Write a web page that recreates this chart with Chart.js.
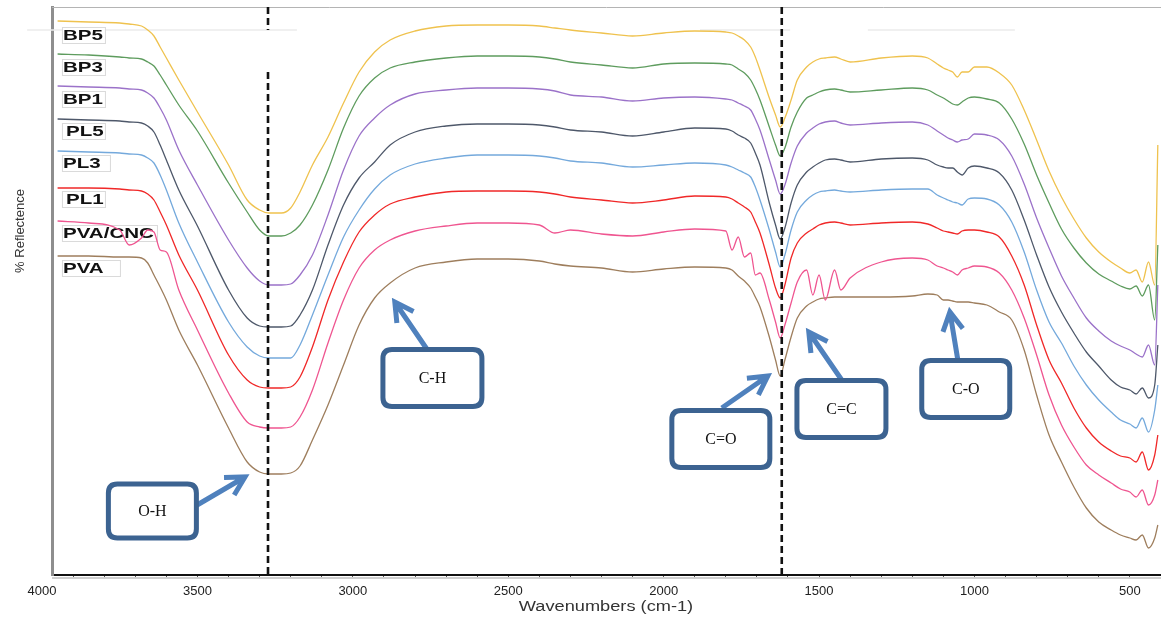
<!DOCTYPE html>
<html>
<head>
<meta charset="utf-8">
<title>FTIR spectra</title>
<script src="https://cdn.jsdelivr.net/npm/chart.js@4.4.1/dist/chart.umd.min.js"></script>
<style>
  html, body { margin: 0; padding: 0; background: #fff; }
  canvas { display: block; }
</style>
</head>
<body>
<canvas id="ftirChart" width="1161" height="617"></canvas>
<script>
// wavenumbers (cm-1)
const wavenumbers = [3950, 3850, 3750, 3720, 3680, 3660, 3640, 3620, 3600, 3560, 3500, 3400, 3340, 3300,
    3270, 3230, 3200, 3170, 3130, 3080, 3030, 2980, 2930, 2880,
    2800, 2700, 2600, 2500, 2400, 2350, 2300, 2200, 2100, 2000,
    1900, 1800, 1780, 1760, 1740, 1720, 1705, 1690, 1660, 1640, 1625, 1610, 1590,
    1570, 1540, 1520, 1500, 1480, 1450, 1430, 1400, 1300, 1200, 1150, 1120, 1100,
    1085, 1070, 1055, 1040, 1020, 1000, 960, 920, 880, 840,
    800, 760, 720, 680, 640, 600, 560, 530, 500, 480,
    460, 440, 420, 410];

// stacked reflectance traces (arbitrary offset units)
const bp5 = [554, 553, 552, 551, 549, 545, 539, 528, 517, 495, 463, 410, 375, 365,
    362, 362, 367, 383, 410, 438, 472, 503, 523, 535,
    544, 549, 550, 550, 549, 547, 545, 542, 539, 542,
    544, 543, 542, 539, 535, 528, 518, 505, 477, 460, 448, 457, 475,
    495, 508, 513, 516, 517, 518, 516, 513, 517, 519, 517, 511, 507,
    505, 503, 498, 503, 503, 508, 508, 502, 490, 465,
    435, 404, 378, 356, 337, 323, 313, 307, 302, 305,
    293, 313, 290, 430];
const bp3 = [521, 520, 518, 517, 516, 513, 509, 500, 490, 470, 444, 392, 363, 345,
    339, 339, 342, 350, 370, 405, 447, 479, 497, 507,
    513, 517, 519, 519, 518, 516, 513, 510, 507, 511,
    512, 511, 510, 506, 502, 495, 486, 475, 448, 430, 419, 427, 448,
    463, 477, 480, 483, 485, 486, 485, 483, 485, 487, 485, 480, 477,
    474, 471, 470, 473, 477, 478, 476, 472, 456, 431,
    400, 372, 346, 327, 312, 301, 294, 289, 286, 289,
    279, 290, 255, 330];
const bp1 = [489, 488, 487, 486, 485, 482, 477, 467, 455, 425, 390, 335, 307, 294,
    290, 290, 291, 300, 320, 360, 405, 439, 457, 470,
    481, 485, 487, 487, 486, 484, 480, 478, 474, 477,
    478, 476, 475, 472, 469, 465, 456, 445, 415, 395, 381, 390, 412,
    429, 442, 447, 451, 453, 454, 452, 450, 452, 453, 450, 444, 440,
    437, 435, 433, 435, 436, 441, 440, 435, 419, 391,
    357, 327, 299, 277, 257, 244, 234, 229, 225, 221,
    218, 230, 210, 290];
const pl5 = [456, 455, 454, 453, 452, 449, 443, 430, 415, 385, 349, 285, 257, 249,
    248, 248, 249, 260, 285, 330, 370, 397, 413, 430,
    443, 449, 451, 451, 450, 448, 445, 443, 439, 443,
    447, 446, 444, 440, 437, 432, 422, 410, 372, 350, 336, 347, 372,
    390, 403, 408, 412, 415, 416, 415, 413, 416, 417, 415, 410, 408,
    407, 407, 403, 400, 407, 409, 407, 402, 385, 355,
    320, 288, 263, 242, 223, 209, 195, 188, 185, 181,
    187, 177, 190, 230];
const pl3 = [424, 423, 422, 421, 420, 417, 412, 400, 385, 352, 313, 253, 228, 219,
    217, 217, 217, 230, 260, 300, 338, 365, 386, 400,
    411, 417, 420, 420, 419, 417, 414, 412, 408, 410,
    412, 410, 408, 405, 402, 398, 388, 375, 345, 323, 308, 320, 345,
    363, 375, 380, 383, 384, 385, 384, 383, 385, 386, 386, 380, 377,
    375, 373, 372, 370, 376, 377, 376, 370, 353, 323,
    285, 253, 232, 209, 190, 175, 163, 155, 151, 147,
    157, 143, 165, 190];
const pl1 = [387, 387, 386, 385, 384, 381, 375, 363, 350, 320, 285, 220, 195, 188,
    187, 187, 188, 198, 228, 275, 313, 343, 360, 371,
    378, 383, 384, 384, 383, 381, 378, 375, 372, 375,
    379, 378, 376, 372, 368, 363, 353, 342, 310, 287, 277, 290, 317,
    332, 342, 346, 350, 352, 353, 352, 350, 352, 353, 351, 347, 344,
    343, 342, 341, 344, 345, 345, 343, 338, 319, 290,
    250, 215, 192, 167, 147, 133, 124, 119, 117, 113,
    123, 105, 120, 140];
const pvaCnc = [354, 352, 345, 330, 337, 345, 343, 325, 323, 285, 245, 182, 153, 148,
    147, 147, 148, 158, 185, 232, 275, 307, 325, 335,
    344, 349, 352, 352, 350, 342, 345, 341, 339, 343,
    346, 344, 325, 338, 318, 322, 300, 302, 275, 253, 237, 250, 272,
    293, 305, 280, 300, 275, 305, 285, 297, 313, 317, 315, 309, 307,
    305, 303, 300, 305, 307, 309, 308, 302, 285, 257,
    220, 180, 150, 128, 110, 100, 92, 86, 83, 78,
    85, 70, 80, 95];
const pva = [319, 319, 318, 318, 317, 312, 300, 288, 275, 245, 210, 147, 113, 103,
    101, 101, 102, 109, 135, 170, 210, 250, 277, 292,
    307, 313, 316, 316, 314, 311, 309, 307, 303, 306,
    308, 307, 305, 299, 294, 287, 278, 268, 238, 215, 199, 215, 238,
    257, 269, 273, 276, 277, 278, 278, 278, 278, 279, 281, 280, 275,
    275, 274, 273, 273, 273, 272, 270, 263, 255, 225,
    180, 140, 113, 88, 67, 53, 45, 40, 37, 35,
    40, 27, 37, 50];

const seriesNames = ["BP5", "BP3", "BP1", "PL5", "PL3", "PL1", "PVA/CNC", "PVA"];
const seriesValues = [bp5, bp3, bp1, pl5, pl3, pl1, pvaCnc, pva];
const tickLabels = [4000, 3500, 3000, 2500, 2000, 1500, 1000, 500];
const bandPositions = [3273, 1620];

// ---- styling / layout ----
const seriesColors = ["#efc24e", "#5e9c5e", "#9b72c9", "#4e586a", "#74a9dc", "#f02828", "#ef5590", "#9e7e5d"];
const labelLevels = [540, 508, 476, 444, 412, 376, 342, 307];
const labelBoxWidths = [43, 43, 43, 43, 48, 43, 95, 58];

const notes = [
    { text: "O-H", x: 3645, y: 64, w: 88, h: 54, from: [3501, 70], to: [3347, 98] },
    { text: "C-H", x: 2744, y: 197, w: 99, h: 57, from: [2762, 226], to: [2865, 273] },
    { text: "C=O", x: 1816, y: 136, w: 98, h: 57, from: [1813, 167], to: [1665, 199] },
    { text: "C=C", x: 1428, y: 166, w: 89, h: 57, from: [1427, 195], to: [1533, 243] },
    { text: "C-O", x: 1028, y: 186, w: 88, h: 57, from: [1054, 216], to: [1079, 263] }
];

// tick marks every 100 cm-1, listed from the left edge (4000) to the right
const minorTicks = [];
for (let w = 4000; w >= 500; w -= 100) minorTicks.push(w);

const datasets = [];

bandPositions.forEach((w, i) => {
    const pts = i === 0
        ? [{ x: w, y: 568 }, { x: w, y: 545 }, { x: w, y: null }, { x: w, y: 503 }, { x: w, y: 0 }]
        : [{ x: w, y: 568 }, { x: w, y: 0 }];
    datasets.push({
        data: pts,
        borderColor: "#111",
        borderWidth: 2.6,
        borderDash: [7, 4],
        pointRadius: 0,
        tension: 0,
        spanGaps: false
    });
});

seriesValues.forEach((vals, i) => {
    datasets.push({
        label: seriesNames[i],
        data: wavenumbers.map((w, j) => ({ x: w, y: vals[j] })),
        borderColor: seriesColors[i],
        borderWidth: 1.3,
        pointRadius: 0,
        cubicInterpolationMode: "monotone"
    });
});

function roundRect(ctx, x, y, w, h, r) {
    ctx.beginPath();
    ctx.moveTo(x + r, y);
    ctx.lineTo(x + w - r, y);
    ctx.quadraticCurveTo(x + w, y, x + w, y + r);
    ctx.lineTo(x + w, y + h - r);
    ctx.quadraticCurveTo(x + w, y + h, x + w - r, y + h);
    ctx.lineTo(x + r, y + h);
    ctx.quadraticCurveTo(x, y + h, x, y + h - r);
    ctx.lineTo(x, y + r);
    ctx.quadraticCurveTo(x, y, x + r, y);
    ctx.closePath();
}

function drawArrow(ctx, x1, y1, x2, y2) {
    const a = Math.atan2(y2 - y1, x2 - x1);
    const head = 21, spread = 0.5;
    ctx.beginPath();
    ctx.moveTo(x1, y1);
    ctx.lineTo(x2 - Math.cos(a) * 3, y2 - Math.sin(a) * 3);
    ctx.moveTo(x2 - head * Math.cos(a - spread), y2 - head * Math.sin(a - spread));
    ctx.lineTo(x2, y2);
    ctx.lineTo(x2 - head * Math.cos(a + spread), y2 - head * Math.sin(a + spread));
    ctx.stroke();
}

const notesPlugin = {
    id: "ftirNotes",
    beforeDatasetsDraw(chart) {
        const { ctx, chartArea, scales: { x, y } } = chart;
        ctx.save();

        // frame top and the light band below the axis
        ctx.strokeStyle = "#b4b4b4";
        ctx.lineWidth = 1;
        ctx.beginPath();
        ctx.moveTo(chartArea.left, chartArea.top + 0.5);
        ctx.lineTo(chart.width, chartArea.top + 0.5);
        ctx.stroke();
        ctx.strokeStyle = "#cfcfcf";
        ctx.lineWidth = 2;
        ctx.beginPath();
        ctx.moveTo(chartArea.left, chartArea.bottom + 3);
        ctx.lineTo(chart.width, chartArea.bottom + 3);
        ctx.stroke();

        // faint leftover text-box edges near the top
        ctx.strokeStyle = "#ebebeb";
        ctx.lineWidth = 1.5;
        [[4048, 3180], [1883, 1593], [1343, 870]].forEach(([a, b]) => {
            ctx.beginPath();
            ctx.moveTo(x.getPixelForValue(a), y.getPixelForValue(545));
            ctx.lineTo(x.getPixelForValue(b), y.getPixelForValue(545));
            ctx.stroke();
        });

        // series labels
        ctx.font = "bold 15px 'Liberation Sans', Arial, sans-serif";
        ctx.textBaseline = "middle";
        seriesNames.forEach((name, i) => {
            const px = x.getPixelForValue(3936);
            const py = y.getPixelForValue(labelLevels[i]);
            ctx.fillStyle = "#fff";
            ctx.fillRect(px, py - 8, labelBoxWidths[i], 16);
            ctx.strokeStyle = "#dadada";
            ctx.lineWidth = 1;
            ctx.strokeRect(px + 0.5, py - 7.5, labelBoxWidths[i], 16);
            ctx.save();
            const indent = (name === "PL5" || name === "PL1") ? 4 : 1;
            ctx.translate(px + indent, py + 0.5);
            ctx.scale(1.37, 1);
            ctx.fillStyle = "#111";
            ctx.fillText(name, 0, 0);
            ctx.restore();
        });
        ctx.restore();
    },
    afterDatasetsDraw(chart) {
        const { ctx, scales: { x, y } } = chart;
        ctx.save();
        ctx.lineCap = "butt";
        ctx.lineJoin = "miter";
        notes.forEach(n => {
            ctx.strokeStyle = "#4f81bd";
            ctx.lineWidth = 5;
            drawArrow(ctx,
                x.getPixelForValue(n.from[0]), y.getPixelForValue(n.from[1]),
                x.getPixelForValue(n.to[0]), y.getPixelForValue(n.to[1]));
        });
        notes.forEach(n => {
            const cx = x.getPixelForValue(n.x);
            const cy = y.getPixelForValue(n.y);
            roundRect(ctx, cx - n.w / 2, cy - n.h / 2, n.w, n.h, 9);
            ctx.fillStyle = "#fff";
            ctx.fill();
            ctx.strokeStyle = "#3c6391";
            ctx.lineWidth = 5;
            ctx.stroke();
            ctx.fillStyle = "#111";
            ctx.font = "16px 'Liberation Serif', 'Times New Roman', serif";
            ctx.textAlign = "center";
            ctx.textBaseline = "middle";
            ctx.fillText(n.text, cx, cy + 1);
        });
        ctx.restore();
    },
    afterDraw(chart) {
        const { ctx, chartArea } = chart;
        ctx.save();
        ctx.fillStyle = "#333";
        ctx.textAlign = "center";
        ctx.textBaseline = "middle";
        ctx.font = "13px 'Liberation Sans', Arial, sans-serif";
        ctx.translate(20, 231);
        ctx.rotate(-Math.PI / 2);
        ctx.fillText("% Reflectence", 0, 0);
        ctx.restore();

        ctx.save();
        ctx.fillStyle = "#333";
        ctx.textAlign = "center";
        ctx.textBaseline = "middle";
        ctx.font = "14px 'Liberation Sans', Arial, sans-serif";
        ctx.translate((chartArea.left + chartArea.right) / 2, 607);
        ctx.scale(1.3, 1);
        ctx.fillText("Wavenumbers (cm-1)", 0, 0);
        ctx.restore();
    }
};

const ctx = document.getElementById("ftirChart").getContext("2d");
new Chart(ctx, {
    type: "line",
    data: { datasets: datasets },
    options: {
        responsive: false,
        animation: false,
        layout: { padding: { top: 7, right: 1, left: 0, bottom: 0 } },
        plugins: {
            legend: { display: false },
            tooltip: { enabled: false }
        },
        scales: {
            x: {
                type: "linear",
                reverse: true,
                min: 403,
                max: 3968,
                afterBuildTicks: (scale) => {
                    scale.ticks = minorTicks.map(v => ({ value: v }));
                },
                afterFit: (scale) => {
                    scale.height = 42;
                    scale.paddingLeft = 0;
                    scale.paddingRight = 0;
                },
                grid: {
                    drawOnChartArea: false,
                    tickLength: 4,
                    tickColor: (c) => (c.tick && c.tick.value > 3968) ? "rgba(0,0,0,0)" : "#555"
                },
                border: { color: "#111", width: 2 },
                ticks: {
                    autoSkip: false,
                    maxRotation: 0,
                    padding: 5,
                    color: "#222",
                    font: { family: "'Liberation Sans', Arial, sans-serif", size: 13 },
                    callback: (v) => tickLabels.includes(v) ? String(v) : ""
                }
            },
            y: {
                min: 0,
                max: 568,
                afterFit: (scale) => { scale.width = 52; },
                ticks: { display: false },
                grid: { display: false },
                border: { display: true, color: "#8e8e8e", width: 3 }
            }
        }
    },
    plugins: [notesPlugin]
});
</script>
</body>
</html>
